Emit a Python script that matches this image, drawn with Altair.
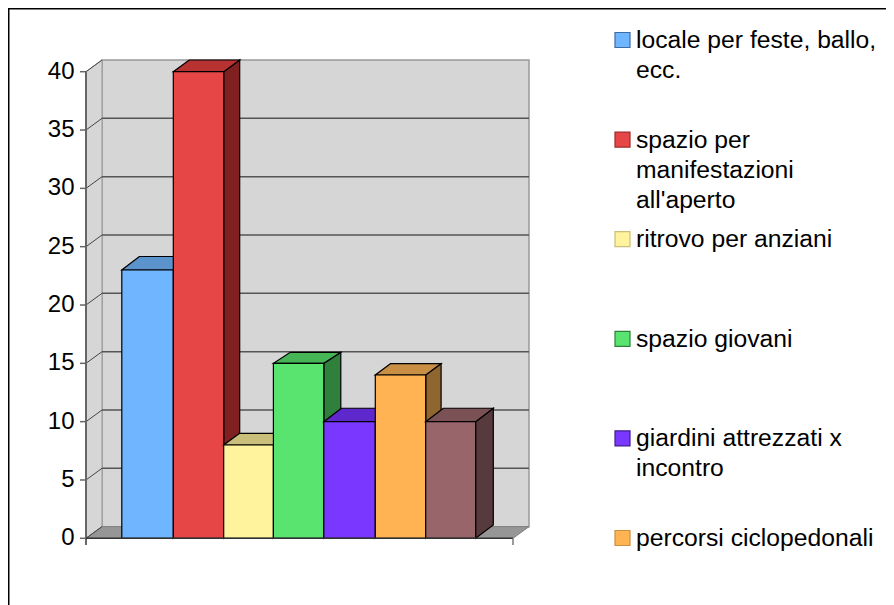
import altair as alt
import pandas as pd

categories = ["locale per feste, ballo, ecc.", "spazio per manifestazioni all'aperto",
              "ritrovo per anziani", "spazio giovani", "giardini attrezzati x incontro",
              "percorsi ciclopedonali", "altro"]
values = [23, 40, 8, 15, 10, 14, 10]
fronts = ["#70b5ff", "#e64646", "#fff39d", "#58e46e", "#7a37ff", "#ffb353", "#97656a"]
tops = ["#5b93cd", "#b83232", "#c9bf7b", "#45b556", "#5e28cc", "#c98f44", "#7a5155"]
sides = ["#3f6c9e", "#802020", "#8f8858", "#2f7f3d", "#401d8c", "#8f6530", "#573a3e"]
legend_strokes = ["#3f6c9e", "#a02a2a", "#c9bf7b", "#2f7f3d", "#401d8c", "#c98f44"]
ticks = [0, 5, 10, 15, 20, 25, 30, 35, 40]
legend_rows = [
    (["locale per feste, ballo,", "ecc."], 0),
    (["spazio per", "manifestazioni", "all'aperto"], 1),
    (["ritrovo per anziani"], 2),
    (["spazio giovani"], 3),
    (["giardini attrezzati x", "incontro"], 4),
    (["percorsi ciclopedonali"], 5),
]

# layout (page pixels -> scale units)
W, H = 878, 597
def X(p): return (p - 122) / 50.5
def Y(p): return (538.3 - p) / 11.665
DX = 16 / 50.5
DY = 1.0
AX0, AX1 = X(86), X(513)
xs = alt.Scale(domain=[X(8), X(8 + W)], range=[0, W], nice=False, zero=False)
ys = alt.Scale(domain=[Y(8 + H), Y(8)], range=[H, 0], nice=False, zero=False)
FONT = "Liberation Sans"
edge_px = [121.8, 173.3, 223.7, 273.4, 323.8, 375.3, 425.7, 475.6]
depth_x_px = [17.6, 16, 16, 17, 17.6, 15.4, 17.7]
depth_y_px = [13.5, 11.7, 11.7, 11, 13.4, 11.4, 13.4]

def ex(f="x"): return alt.X(f"{f}:Q", scale=xs, axis=None)
def ey(f="y"): return alt.Y(f"{f}:Q", scale=ys, axis=None)

def area_v(rows, fill, stroke, sw=1.0):
    return alt.Chart(pd.DataFrame(rows)).mark_area(fill=fill, stroke=stroke, strokeWidth=sw, opacity=1).encode(
        x=ex(), y=ey(), y2=alt.Y2("y2:Q"))

def area_h(rows, fill, stroke, sw=1.0):
    return alt.Chart(pd.DataFrame(rows)).mark_area(orient="horizontal", fill=fill, stroke=stroke, strokeWidth=sw, opacity=1).encode(
        y=ey(), x=ex(), x2=alt.X2("x2:Q"))

def rule_h(rows, color, sw):
    return alt.Chart(pd.DataFrame(rows)).mark_rule(color=color, strokeWidth=sw).encode(
        x=ex(), x2=alt.X2("x2:Q"), y=ey())

def rule_v(rows, color, sw):
    return alt.Chart(pd.DataFrame(rows)).mark_rule(color=color, strokeWidth=sw).encode(
        x=ex(), y=ey(), y2=alt.Y2("y2:Q"))

layers = []
# back wall
layers.append(alt.Chart(pd.DataFrame([{"x": AX0 + DX, "x2": AX1 + DX, "y": DY, "y2": 40 + DY}]))
              .mark_rect(fill="#d6d6d6", stroke="#999999", strokeWidth=1.5)
              .encode(x=ex(), x2=alt.X2("x2:Q"), y=ey(), y2=alt.Y2("y2:Q")))
# left side wall
layers.append(area_v([{"x": AX0, "y": 0, "y2": 40}, {"x": AX0 + DX, "y": DY, "y2": 40 + DY}], "#d6d6d6", "#999999", 1))
# floor
layers.append(area_h([{"y": 0, "x": AX0, "x2": AX1}, {"y": DY, "x": AX0 + DX, "x2": AX1 + DX}], "#969696", "#808080", 1))
# grid on back wall
layers.append(rule_h([{"x": AX0 + DX, "x2": AX1 + DX, "y": t + DY} for t in ticks if 0 < t < 40], "#555555", 1.5))
# slanted grid on side wall
for t in ticks:
    layers.append(alt.Chart(pd.DataFrame([{"x": AX0, "y": t}, {"x": AX0 + DX, "y": t + DY}]))
                  .mark_line(color="#444444", strokeWidth=1).encode(x=ex(), y=ey()))
# bars, painted left to right
for i, v in enumerate(values):
    x0, x1 = X(edge_px[i]), X(edge_px[i + 1])
    dx = depth_x_px[i] / 50.5
    dy = depth_y_px[i] / 11.665
    layers.append(area_v([{"x": x1, "y": 0, "y2": v}, {"x": x1 + dx, "y": dy, "y2": v + dy}], sides[i], "#000000", 1.2))
    layers.append(area_h([{"y": v, "x": x0, "x2": x1}, {"y": v + dy, "x": x0 + dx, "x2": x1 + dx}], tops[i], "#000000", 1.2))
    layers.append(alt.Chart(pd.DataFrame([{"x": x0, "x2": x1, "y": 0, "y2": v}]))
                  .mark_rect(fill=fronts[i], stroke="#000000", strokeWidth=1.2)
                  .encode(x=ex(), x2=alt.X2("x2:Q"), y=ey(), y2=alt.Y2("y2:Q")))
# axes lines
layers.append(rule_v([{"x": AX0, "y": Y(545), "y2": 40}], "#666666", 2))
layers.append(rule_h([{"x": AX0, "x2": AX1, "y": 0}], "#333333", 1.5))
layers.append(rule_v([{"x": AX1, "y": Y(545), "y2": 0}], "#777777", 1.5))
layers.append(rule_h([{"x": X(80), "x2": AX0, "y": t} for t in ticks], "#666666", 1.5))
# tick labels
layers.append(alt.Chart(pd.DataFrame({"t": ticks, "x": [X(74.5)] * len(ticks)}))
              .mark_text(align="right", baseline="middle", font=FONT, fontSize=24, color="#000000")
              .encode(x=ex(), y=ey("t"), text=alt.Text("t:Q")))
# legend
for (lines, r) in legend_rows:
    cy = 40 + r * 99.6
    layers.append(alt.Chart(pd.DataFrame([{"x": X(615), "x2": X(630), "y": Y(cy + 7.5), "y2": Y(cy - 7.5)}]))
                  .mark_rect(fill=fronts[r], stroke=legend_strokes[r], strokeWidth=1.2)
                  .encode(x=ex(), x2=alt.X2("x2:Q"), y=ey(), y2=alt.Y2("y2:Q")))
    for k, line in enumerate(lines):
        layers.append(alt.Chart(pd.DataFrame([{"x": X(636), "y": Y(cy + 1 + k * 30), "s": line}]))
                      .mark_text(align="left", baseline="middle", font=FONT, fontSize=24.7, color="#000000")
                      .encode(x=ex(), y=ey(), text="s:N"))
# frame
layers.append(rule_h([{"x": X(8), "x2": X(8 + W), "y": Y(8.5)}], "#000000", 2))
layers.append(rule_v([{"x": X(8.5), "y": Y(8 + H), "y2": Y(8)}], "#000000", 2))

chart = alt.layer(*layers).properties(
    width=W, height=H, padding=0, autosize=alt.AutoSizeParams(type="none"), background="white"
).configure_view(stroke=None)

chart.save("out.html", embed_options={"renderer": "svg", "actions": False})
